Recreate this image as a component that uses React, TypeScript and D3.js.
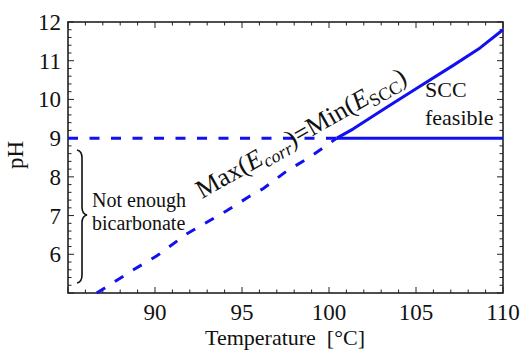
import React from "react";
import * as d3 from "d3";

const xTicks = [90, 95, 100, 105, 110];
const yTicks = [6, 7, 8, 9, 10, 11, 12];
const thresholdPH = 9;
const crossT = 100.45;
const diagT = [86.65, 88.76, 90.11, 91.84, 94.14, 95.48, 96.23, 97.6, 98.9, 100.45, 101.4, 103.32, 105.23, 107.14, 108.68, 110];
const diagPH = [5.0, 5.6, 5.96, 6.53, 7.13, 7.51, 7.7, 8.16, 8.51, 9.0, 9.24, 9.8, 10.34, 10.88, 11.33, 11.8];

const W = 520, H = 350;
const L = 68, R = 503, T = 22, B = 293;
const FONT = "'Liberation Serif', 'Times New Roman', serif";
const BLUE = "#1010f0";

export default function App() {
  const x = d3.scaleLinear().domain([85, 110]).range([L, R]);
  const y = d3.scaleLinear().domain([5, 12]).range([B, T]);
  const line = d3.line<[number, number]>().x(d => x(d[0])).y(d => y(d[1]));

  const pts: [number, number][] = diagT.map((t, i) => [t, diagPH[i]]);
  const dashedDiag = pts.filter(p => p[0] <= crossT);
  const solidDiag = pts.filter(p => p[0] >= crossT);

  const xMinor = d3.range(85, 110.001, 1);
  const yMinor = d3.range(5, 12.001, 0.2);
  const tickCol = "#222";

  const brace = "M77,150 Q82,151 82,158 L82,207 Q82,214 87,215 Q82,216 82,223 L82,275 Q82,282 77,283";

  return (
    <svg width={W} height={H} style={{ position: "absolute", left: 0, top: 0 }}>
      <rect x={0} y={0} width={W} height={H} fill="#fff" />
      {xMinor.map(v => {
        const major = Math.abs(v % 5) < 1e-6;
        const len = major ? 6 : 3.5;
        return (
          <g key={"xt" + v}>
            <line x1={x(v)} x2={x(v)} y1={B} y2={B - len} stroke={tickCol} strokeWidth={1} />
            <line x1={x(v)} x2={x(v)} y1={T} y2={T + len} stroke={tickCol} strokeWidth={1} />
          </g>
        );
      })}
      {yMinor.map(v => {
        const major = Math.abs(v - Math.round(v)) < 1e-6;
        const len = major ? 6 : 3.5;
        return (
          <g key={"yt" + v.toFixed(1)}>
            <line x1={L} x2={L + len} y1={y(v)} y2={y(v)} stroke={tickCol} strokeWidth={1} />
            <line x1={R} x2={R - len} y1={y(v)} y2={y(v)} stroke={tickCol} strokeWidth={1} />
          </g>
        );
      })}
      <rect x={L} y={T} width={R - L} height={B - T} fill="none" stroke={tickCol} strokeWidth={1.6} />

      <path d={line([[85, thresholdPH], [crossT, thresholdPH]]) || ""} fill="none" stroke={BLUE} strokeWidth={3} strokeDasharray="10,11.5" />
      <path d={line([[crossT, thresholdPH], [110, thresholdPH]]) || ""} fill="none" stroke={BLUE} strokeWidth={3} />
      <path d={line(dashedDiag) || ""} fill="none" stroke={BLUE} strokeWidth={3} strokeDasharray="10,11.5" />
      <path d={line(solidDiag) || ""} fill="none" stroke={BLUE} strokeWidth={3} strokeLinejoin="round" />

      {xTicks.map(v => (
        <text key={"xl" + v} x={x(v)} y={320} textAnchor="middle" fontFamily={FONT} fontSize={23} fill="#111">{v}</text>
      ))}
      {yTicks.map(v => (
        <text key={"yl" + v} x={61} y={y(v) + 8} textAnchor="end" fontFamily={FONT} fontSize={23} fill="#111">{v}</text>
      ))}
      <text x={285} y={345} textAnchor="middle" fontFamily={FONT} fontSize={22} fill="#111" style={{ whiteSpace: "pre" }}>{"Temperature  [°C]"}</text>
      <text transform="translate(23,155) rotate(-90)" textAnchor="middle" fontFamily={FONT} fontSize={23} fill="#111">pH</text>

      <path d={brace} fill="none" stroke="#111" strokeWidth={1.6} />
      <text x={92} y={207} fontFamily={FONT} fontSize={20} fill="#111">Not enough</text>
      <text x={92} y={230} fontFamily={FONT} fontSize={20} fill="#111">bicarbonate</text>
      <text x={425} y={97} fontFamily={FONT} fontSize={22} fill="#111">SCC</text>
      <text x={425} y={125} fontFamily={FONT} fontSize={22} fill="#111">feasible</text>
      <text transform="translate(202,199) rotate(-29.6)" fontFamily={FONT} fontSize={26} fill="#111">
        Max(<tspan fontStyle="italic">E</tspan><tspan fontStyle="italic" fontSize={18} dy={5}>corr</tspan><tspan dy={-5}>)=Min(</tspan><tspan fontStyle="italic">E</tspan><tspan fontSize={18} dy={5}>SCC</tspan><tspan dy={-5}>)</tspan>
      </text>
    </svg>
  );
}
